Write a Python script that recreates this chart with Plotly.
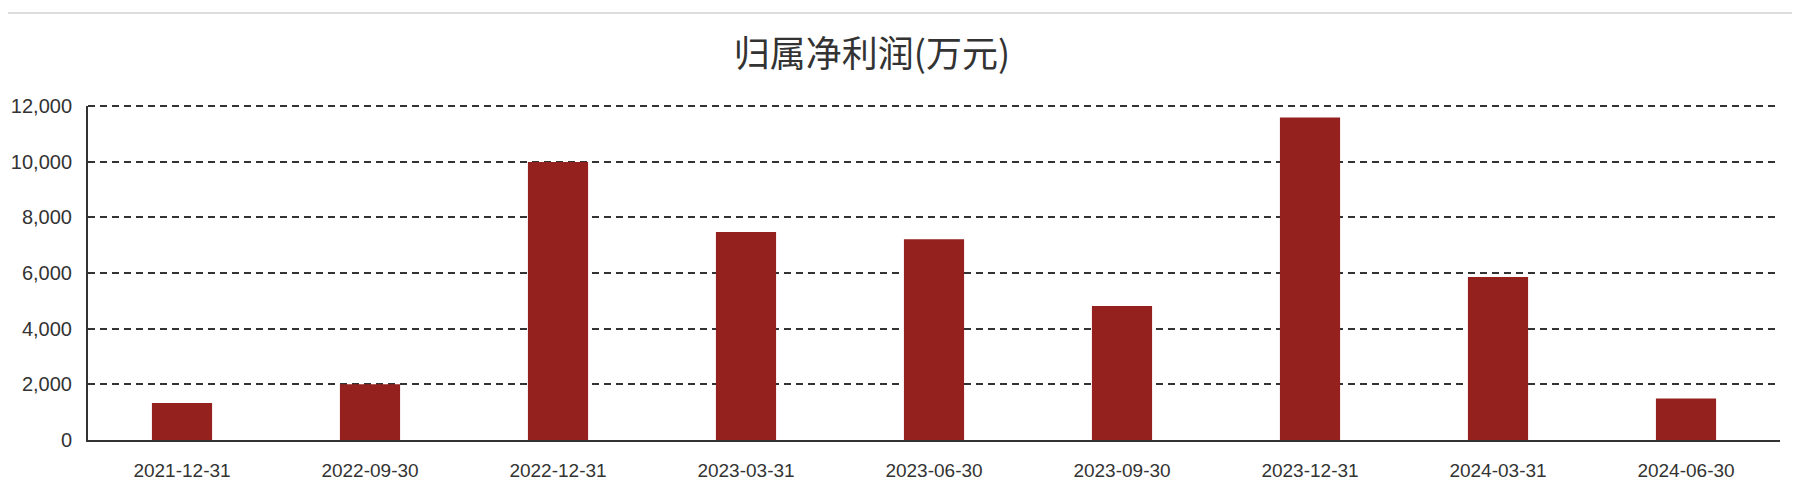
import plotly.graph_objects as go

# 报告期
periods = [
    "2021-12-31", "2022-09-30", "2022-12-31", "2023-03-31", "2023-06-30",
    "2023-09-30", "2023-12-31", "2024-03-31", "2024-06-30",
]
# 归属净利润 (万元)
net_profit = [1330, 2000, 9990, 7470, 7210, 4810, 11590, 5860, 1490]

y_ticks = [0, 2000, 4000, 6000, 8000, 10000, 12000]

# page body has an 8px margin, so the figure is a little smaller than the window
W, H = 1784, 486
ML, MR, MT, MB = 80, 12, 98, 54
plot_w = W - ML - MR
plot_h = H - MT - MB

fig = go.Figure(go.Bar(
    x=periods,
    y=net_profit,
    marker=dict(color="#95211e", line=dict(width=0)),
    hoverinfo="x+y",
))

fig.update_layout(
    width=W,
    height=H,
    margin=dict(l=ML, r=MR, t=MT, b=MB),
    plot_bgcolor="white",
    paper_bgcolor="white",
    bargap=0.68,
    showlegend=False,
    font=dict(family="Liberation Sans, Arial, sans-serif", size=19, color="#333"),
    title=dict(
        text="归属净利润(万元)",
        font=dict(family="Noto Sans CJK SC", size=36, color="#333"),
        x=864 / W,
        xref="container",
        xanchor="center",
        y=1 - 46 / H,
        yref="container",
        yanchor="middle",
    ),
)

fig.update_xaxes(
    type="category",
    automargin=False,
    showline=True,
    linecolor="#333",
    linewidth=2,
    ticks="",
    ticklabelstandoff=12,
    showgrid=False,
    zeroline=False,
)

fig.update_yaxes(
    range=[0, y_ticks[-1]],
    tickvals=y_ticks,
    tickformat=",",
    automargin=False,
    showline=True,
    linecolor="#333",
    linewidth=2,
    ticks="",
    ticklabelstandoff=10,
    tickfont=dict(size=20),
    showgrid=True,
    gridcolor="#333",
    gridwidth=2,
    griddash="7px,5px",
    zeroline=False,
)

# plotly skips the gridline on the top edge (range max), draw it by hand
fig.add_shape(
    type="line",
    xref="paper", yref="paper",
    x0=0, x1=1,
    y0=1, y1=1,
    line=dict(color="#333", width=2, dash="7px,5px"),
)

# 顶部的浅灰分隔线
fig.add_shape(
    type="line",
    xref="paper", yref="paper",
    x0=-(ML + 8) / plot_w, x1=1 + (MR + 8) / plot_w,
    y0=1 + (MT - 5) / plot_h, y1=1 + (MT - 5) / plot_h,
    line=dict(color="#dcdcdc", width=2),
)

fig.write_html("out.html")
